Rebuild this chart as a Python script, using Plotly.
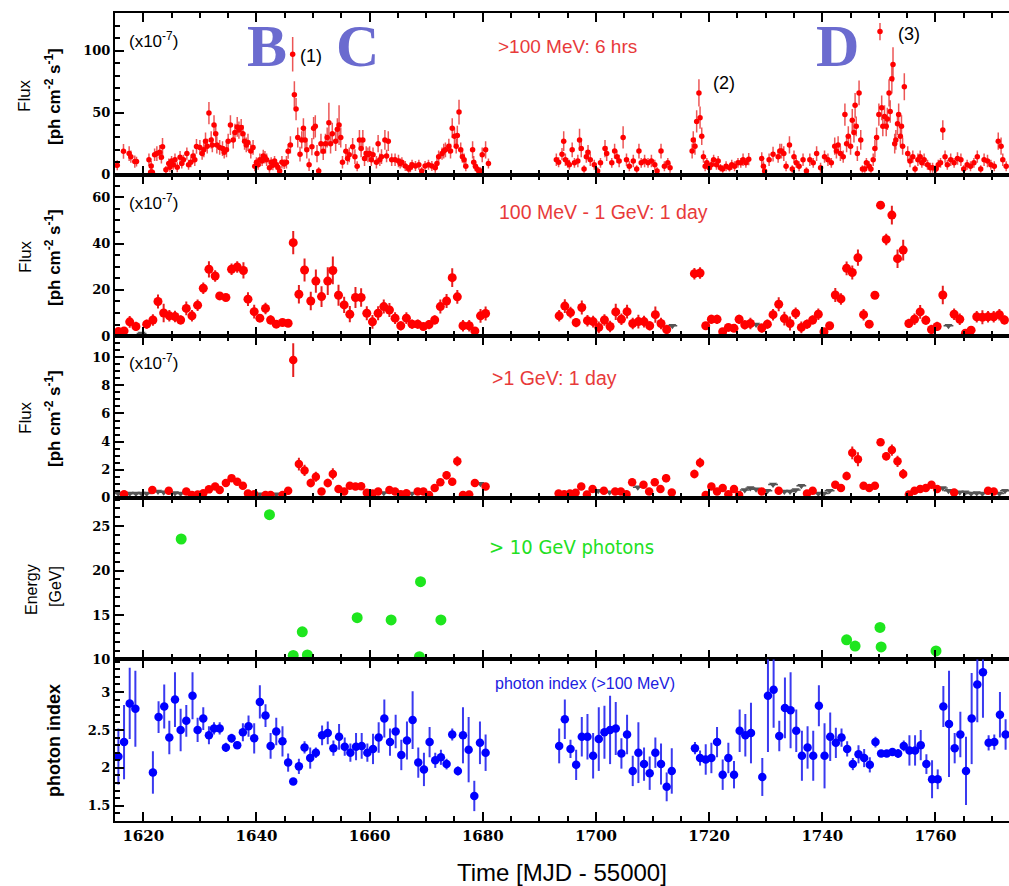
import plotly.graph_objects as go
from plotly.subplots import make_subplots

# ---------------- Panel 1: >100 MeV, 6 hr bins (x1e-7) ----------------
p1_t = [1615.4,1616.5,1617.5,1617.8,1618.5,1618.8,1621.0,1621.3,1621.4,1621.6,1622.0,1622.4,1622.9,1623.2,1623.4,
        1624.0,1624.5,1624.7,1625.0,1625.3,1625.6,1626.0,1626.5,1626.8,1627.1,1627.7,1628.0,1628.4,1628.8,1629.1,
        1629.4,1630.0,1630.4,1630.7,1631.0,1631.3,1631.6,1632.0,1632.2,1632.5,1632.8,1633.0,1633.5,1634.0,1634.3,
        1634.7,1635.0,1635.4,1635.9,1636.2,1636.6,1636.9,1637.3,1637.6,1637.9,1638.2,1638.5,1639.0,1639.4,1639.7,
        1640.0,1640.3,1640.6,1641.0,1641.2,1641.5,1641.8,1642.3,1642.6,1642.9,1643.2,1643.5,1643.8,1644.1,1644.5,
        1644.9,1645.3,1645.6,1646.0,1646.4,1646.7,1647.0,1647.3,1647.7,1648.0,1648.3,1648.6,1648.9,1649.3,1649.8,
        1650.1,1650.4,1650.7,1651.0,1651.4,1651.8,1652.2,1652.5,1652.8,1653.1,1653.4,1654.0,1654.3,1654.6,1654.9,
        1655.2,1655.8,1656.1,1656.4,1657.0,1657.4,1657.8,1658.2,1658.5,1658.8,1659.1,1659.4,1659.7,1660.0,1660.3,
        1660.6,1661.2,1661.5,1661.8,1662.1,1662.7,1663.0,1663.3,1663.9,1664.5,1665.1,1665.4,1665.7,1666.3,1666.9,
        1667.2,1667.5,1668.1,1668.7,1669.2,1669.8,1670.4,1671.0,1671.6,1671.9,1672.2,1672.8,1673.1,1673.4,1674.0,
        1674.3,1674.6,1675.0,1675.3,1675.5,1675.8,1676.1,1676.4,1676.7,1677.0,1678.2,1678.4,1678.7,1679.0,1679.3,
        1679.6,1679.9,1680.5,1681.0,
        1693.0,1693.4,1694.0,1694.3,1694.6,1695.0,1695.3,1695.8,1696.2,1696.8,1697.1,1697.4,1697.9,1698.3,1698.6,
        1699.0,1699.7,1700.3,1700.8,1701.6,1701.9,1702.8,1703.3,1703.7,1704.1,1704.8,1705.4,1705.9,1706.6,1707.2,
        1707.6,1708.0,1708.6,1709.2,1709.8,1710.4,1710.8,1711.5,1712.1,1712.7,1713.1,
        1717.0,1717.2,1717.5,1717.8,1718.2,1718.4,1718.7,1719.0,1719.3,1719.6,1720.0,1720.4,1720.8,1721.3,1721.6,
        1722.0,1722.4,1723.0,1723.6,1724.0,1724.5,1725.1,1725.6,1726.0,1726.5,1727.0,
        1729.3,1729.6,1729.8,1730.6,1731.3,1732.2,1732.5,1732.8,1733.2,1733.6,1734.2,1734.7,1735.0,1735.4,1735.9,
        1736.6,1737.2,1737.8,1738.4,1739.0,1739.7,1740.4,1741.0,1741.6,1742.2,1742.5,1742.8,1743.2,1743.7,1744.0,
        1744.3,1744.6,1745.0,1745.3,1745.6,1745.8,1746.0,1746.2,1746.5,1746.8,1747.1,1747.5,1747.8,1748.3,1748.6,
        1749.0,1749.3,1749.6,1750.0,1750.2,1750.5,1750.7,1751.0,1751.3,1751.5,1751.8,1752.0,1752.3,1752.5,1752.8,
        1753.0,1753.3,1753.5,1753.8,1754.0,1754.2,1754.5,1755.1,1755.5,1756.0,1756.4,1756.9,1757.3,1757.6,1758.0,
        1758.6,1759.1,1759.5,1760.1,1760.5,1760.9,1761.3,1761.7,1762.1,1762.7,1763.3,1763.9,1764.5,1765.0,1765.6,
        1766.2,1766.8,1767.4,1768.0,1768.6,1769.2,1769.8,1770.4,1771.1,1771.6,1771.9,1772.5]
p1_f = [7.5,18.8,17,14.5,10.5,10.5,12,2,7,2,16,17,18,14,22.6,
        4,9,6,11,8,12,6,14,9,12,17,8,10,15,12,
        22.8,22,17,20,27,23,49.7,28,24,40,33,24,22,21,18,
        20,27,40,28,34,38.5,36,38,33,27,24,26,19,22,6.7,
        10,8,12,11,15,14,12,5.5,10,7.5,11,8,6,3,10,
        8.5,10,18.8,24,97.3,64.5,53,30,16.5,28,37.5,28,20,8,22.6,
        37.5,39,17,3,25,18.8,25,30,42,25,33,27,36.6,40,30,
        10,18.8,13,16,22.6,14.5,6.7,28,21,28,13,17,16,17,12,
        16,10,25,12,14.5,28,15,27,12,12,11,9,10,7,4.5,
        6,8,7,8,3,7,8,7,5.5,9,14.5,17,19,20,23,
        19,37.5,31,23,31.5,50.5,20,14.5,12,6.7,20,10,6.7,4.5,3,
        3,16,20,9,
        12,10,16.5,27,12,9.5,8,20,9.5,11,28,21,4.5,14.5,18,
        12,8,3,9.5,21,17,9.5,19,14.5,11,30,12,6.7,11,4.5,
        19,9.5,11,9.5,11,8,3,19,6.7,9.5,5.5,
        19,28,23,43,66,46,31,14.5,6.7,9.5,5.5,8,12,8,11,
        5.5,4.5,6.7,5.5,8,6.7,9.5,9.5,12,9.5,12.5,
        13,6.7,3,12,16.5,14.5,19,19,17,6.7,24,4.5,14.5,9.5,6.7,
        12,3,12,9.5,17,5.5,14.5,12,9.5,23,19,24,17,14.5,48.5,
        25,31,23,44,34,56,39,17,66,28,4.5,4.5,9.5,6.7,4.5,
        12,21,30,48.5,115.6,54,39,47,39,45,66,51,77.5,89,25,
        28,41,48.5,31,39,23,71,17,11,14.5,4.5,12,14.5,9.5,12,
        8,5.5,5.5,4.5,8,9.5,36,14.5,8,12,9.5,13,12,4.5,8,
        6.7,9.5,14.5,4.5,12,11,8,6.7,27,23,12,6.7]
p1_e = [4,6,6,5,5,4,5,3,4,3,5,6,6,5,7,
        3,4,4,4,4,5,4,5,4,4,5,4,4,5,5,
        6,6,5,6,7,6,9,7,6,8,7,7,6,6,5,
        6,6,8,7,7,8,7,7,7,7,6,7,6,6,4,
        4,4,5,4,5,5,5,4,4,4,4,4,4,3,5,
        4,5,6,7,14,11,9,8,6,7,8,8,7,5,7,
        9,9,7,3,8,7,8,8,16,8,9,8,9,16,8,
        5,6,5,6,7,6,4,8,7,8,6,6,6,6,5,
        6,5,7,5,6,8,5,8,5,5,5,4,4,4,3,
        4,4,4,4,3,4,4,4,4,4,5,5,6,6,6,
        6,8,7,6,8,10,6,5,5,4,7,5,4,3,3,
        3,6,7,4,
        5,4,5,8,5,4,4,6,4,5,9,7,3,5,6,
        5,4,3,4,7,6,4,6,5,5,9,5,4,5,3,
        6,4,5,4,5,4,3,6,4,4,4,
        6,7,7,9,11,9,7,5,4,4,3,4,4,4,4,
        3,3,4,3,4,4,4,4,5,4,5,
        5,4,3,5,6,5,6,6,6,4,7,3,5,4,4,
        5,3,5,4,6,4,5,5,4,7,6,7,6,5,9,
        7,8,7,9,8,10,8,6,10,8,3,3,4,4,3,
        5,7,8,9,7,10,8,9,8,9,11,9,12,14,8,
        8,9,9,8,9,7,11,6,5,5,3,5,5,4,5,
        4,4,4,3,4,4,8,5,4,5,4,5,5,3,4,
        4,4,5,3,5,5,4,4,7,7,5,4]

# ---------------- Panel 2: 100 MeV - 1 GeV, 1 day (x1e-7) ----------------
p2_t = [1615.6,1616.6,1617.6,1618.7,1620.6,1621.7,1622.6,1623.6,1624.6,1625.6,1626.6,1627.6,1628.6,1629.6,1630.6,
        1631.6,1632.7,1633.5,1634.6,1635.6,1636.6,1637.7,1638.5,1639.6,1640.6,1641.6,1642.5,1643.5,1644.6,1645.6,
        1646.5,1647.5,1648.5,1649.6,1650.5,1651.5,1652.6,1653.5,1654.5,1655.5,1656.5,1657.5,1658.5,1659.5,1660.5,
        1661.5,1662.5,1663.5,1664.5,1665.5,1666.5,1667.5,1668.5,1669.5,1670.5,1671.5,1672.5,1673.6,1674.6,1675.5,
        1676.5,1677.6,1678.6,1679.6,1680.5,
        1693.5,1694.5,1695.5,1696.5,1697.5,1698.5,1699.5,1700.5,1701.5,1702.5,1703.5,1704.5,1705.5,1706.5,1707.5,
        1708.5,1709.5,1710.5,1711.5,1712.5,1717.4,1718.4,1719.4,1720.4,1721.4,1722.4,1723.4,1724.4,1725.3,1726.3,
        1727.3,1729.3,1730.3,1731.3,1732.3,1733.3,1734.3,1735.3,1736.3,1737.3,1738.3,1739.3,1740.3,1741.3,1742.3,
        1743.3,1744.3,1745.3,1746.3,1747.3,1748.3,1749.3,1750.3,1751.3,1752.3,1753.3,1754.3,1755.3,1756.3,1757.3,
        1758.3,1759.3,1760.3,1761.3,1763.3,1764.3,1765.3,1766.3,1767.3,1768.3,1769.3,1770.3,1771.3,1772.2]
p2_f = [2,2.3,6.2,4.2,5.2,7,15,10,8.8,8.5,7,12,8.8,13.4,20.7,
        28.9,26,17.4,16.7,28.9,29.9,28.4,16,10.6,7.8,12,7,5.2,5.9,5.6,
        40.4,18.1,28.6,15.2,23.8,17.1,23.8,28.4,17.7,13.5,9.5,16.7,16.7,9.9,6.2,
        9.9,12.8,11.3,7.8,4.5,7.8,5.2,5.2,4.2,5,7,12.8,15.2,25.3,17,
        4.5,4.5,2.3,8.8,9.8,
        8.8,13,10.2,5.9,12.4,6.7,6.3,3.8,7,4.2,10.5,7.3,10.6,5.5,6.3,
        6.3,4.5,9.3,5.5,2.9,27,27.3,4.5,7.3,7.3,1.9,3.8,3.4,7.3,4.9,
        5.5,3.5,5.2,9.3,13.8,7.6,5.5,9.9,3.8,5.2,7,9.5,1.9,4.5,17.8,
        16.1,29.3,27.5,33.9,9.3,5.2,17.7,56.6,41.8,52.3,33.5,37.2,5.5,7.3,10.5,
        6.9,2.9,4.2,17.8,9.5,7.3,1.3,2.6,8.4,8.2,8.4,8.4,9.3,7]
p2_e = [1,1,2.5,2,2,2.5,3,4,2.5,2.5,2,3,2.5,2.5,2.5,
        3.5,2.5,1.5,1.5,2.5,2.5,3.5,3,3,1.5,2.5,2,1.5,1.5,1.5,
        5,4,5,4,5,4.5,6,6,4.5,3.5,3.5,4.5,4,3,3,
        3,3,3,2.5,2,2.5,2,2,1.5,2,2,3,3,4,3,
        2.5,2.5,1.5,3,3,
        2.5,3,2.5,2,3,2.5,2.5,2.5,2.5,2.5,3.5,2.5,3,2.5,3,
        2.5,2,3.5,2.5,2,2.5,2.5,1.5,2,2,1,1,1,2,2,
        2.5,2,2,2.5,3,3,3,2.5,2.5,2,2,2.5,1.5,1.5,3,
        2.5,3,3,3.5,2.5,1.5,1.5,1.5,2.5,4,4,4.5,2,2.5,3,
        2,2,2,4,2.5,2.5,1,1.5,2.5,3,2.5,2.5,2.5,2]
p2_ul_t = [1619.7,1713.5,1728.3,1762.3]
p2_ul_f = [1.2,4.5,5,4.5]

# ---------------- Panel 3: >1 GeV, 1 day (x1e-7) ----------------
p3_t = [1616.6,1621.6,1624.5,1627.6,1628.6,1629.6,1630.6,1631.6,1632.7,1633.5,1634.6,1635.6,1636.6,1637.6,1638.5,
        1639.6,1641.6,1642.5,1644.6,1645.6,1646.5,1647.5,1648.5,1649.6,1650.5,1651.5,1652.6,1653.5,1654.5,1655.5,
        1656.5,1657.5,1658.5,1659.5,1660.5,1661.5,1663.5,1664.5,1665.5,1666.5,1668.5,1669.5,1670.5,1671.5,1672.5,
        1673.6,1674.6,1675.5,1676.5,1677.6,1678.6,1680.5,
        1693.4,1694.4,1695.4,1696.4,1697.4,1698.4,1699.4,1701.4,1703.4,1704.4,1705.4,1706.4,1708.4,1709.4,1710.4,
        1711.4,1712.4,1713.4,1717.4,1718.4,1719.4,1720.4,1721.4,1722.4,1723.4,1724.4,1725.3,1729.3,1732.3,1737.3,
        1738.3,1742.3,1743.3,1744.3,1745.3,1746.3,1747.3,1748.3,1749.3,1750.3,1751.3,1752.3,1753.3,1754.3,1755.3,
        1756.3,1757.3,1758.3,1759.3,1760.3,1763.3,1769.3,1770.3]
p3_f = [0.26,0.55,0.5,0.45,0.2,0.24,0.33,0.6,0.8,0.55,1.05,1.4,1.15,0.86,0.3,
        0.26,0.2,0.2,0.2,0.5,9.8,2.4,1.95,1.05,1.5,0.45,1.05,1.7,0.62,0.45,
        0.86,0.8,0.83,0.36,0.3,0.45,0.55,0.45,0.26,0.33,0.45,0.45,0.2,0.7,1.1,
        1.6,1.15,2.6,0.2,0.24,1.05,0.8,
        0.3,0.26,0.3,0.36,0.8,0.24,0.62,0.5,0.45,0.45,0.26,1.1,0.93,0.45,1.1,
        0.62,1.4,0.38,1.7,2.5,0.2,0.8,0.45,0.7,0.26,0.62,0.2,0.45,0.5,0.3,
        0.5,0.93,0.7,1.55,3.2,2.75,0.86,0.7,0.86,3.95,2.95,3.4,2.6,1.7,0.24,
        0.5,0.62,0.7,0.93,0.62,0.38,0.5,0.45]
p3_e = [0.1,0.12,0.12,0.1,0.08,0.08,0.1,0.12,0.15,0.12,0.15,0.15,0.15,0.2,0.1,
        0.1,0.08,0.08,0.08,0.12,1.2,0.45,0.4,0.3,0.35,0.15,0.3,0.4,0.2,0.15,
        0.2,0.2,0.2,0.1,0.1,0.12,0.12,0.12,0.1,0.1,0.12,0.12,0.08,0.15,0.2,
        0.3,0.25,0.35,0.08,0.08,0.25,0.2,
        0.1,0.1,0.1,0.1,0.2,0.1,0.2,0.15,0.12,0.12,0.1,0.25,0.25,0.12,0.25,
        0.2,0.3,0.1,0.3,0.35,0.08,0.2,0.12,0.15,0.1,0.15,0.08,0.12,0.12,0.1,
        0.12,0.25,0.2,0.3,0.45,0.5,0.15,0.12,0.12,0.25,0.3,0.4,0.4,0.35,0.08,
        0.12,0.15,0.15,0.2,0.15,0.1,0.12,0.12]
p3_ul_t = [1615.6,1617.6,1618.7,1619.7,1620.6,1622.6,1623.6,1625.6,1626.6,1640.6,1643.5,1662.5,1667.5,1679.6,
           1700.4,1702.4,1707.4,1726.3,1727.3,1728.3,1730.3,1731.3,1733.3,1734.3,1735.3,1736.3,1739.3,1740.3,
           1741.3,1761.3,1762.3,1764.3,1765.3,1766.3,1767.3,1768.3,1771.3,1772.3]
p3_ul_f = [0.3,0.3,0.3,0.3,0.3,0.45,0.4,0.35,0.3,0.25,0.25,0.35,0.3,1.0,
           0.5,0.4,0.75,0.55,0.7,0.6,0.5,0.95,0.45,0.45,0.55,0.85,0.3,0.3,
           0.5,0.7,0.5,0.4,0.4,0.3,0.35,0.3,0.3,0.5]

# ---------------- Panel 4: >10 GeV photons ----------------
p4_t = [1626.7,1642.3,1646.5,1648.1,1649.0,1657.8,1663.8,1669.0,1668.8,1672.6,1744.3,1745.8,1750.2,1750.4,1760.1]
p4_e = [23.56,26.3,10.45,13.1,10.5,14.7,14.45,18.75,10.3,14.45,12.2,11.5,13.6,11.4,10.95]

# ---------------- Panel 5: photon index (>100 MeV) ----------------
p5_t = [1615.6,1616.6,1617.6,1618.6,1621.7,1622.7,1623.7,1624.6,1625.6,1626.6,1627.6,1628.7,1629.6,1630.6,1631.6,
        1632.5,1633.5,1634.6,1635.6,1636.6,1637.6,1638.6,1639.6,1640.6,1641.6,1642.5,1643.5,1644.6,1645.6,1646.5,
        1647.5,1648.5,1649.5,1650.5,1651.6,1652.6,1653.6,1654.6,1655.6,1656.6,1657.6,1658.6,1659.6,1660.6,1661.6,
        1662.6,1663.6,1664.6,1665.6,1666.6,1667.6,1668.6,1669.6,1670.6,1671.6,1672.6,1673.6,1674.6,1675.6,1676.5,
        1677.5,1678.5,1679.5,1680.5,
        1693.5,1694.5,1695.5,1696.5,1697.5,1698.5,1699.5,1700.5,1701.5,1702.5,1703.5,1704.5,1705.5,1706.5,1707.5,
        1708.5,1709.5,1710.5,1711.5,1712.5,1713.4,1717.5,1718.4,1719.4,1720.4,1721.4,1722.4,1723.4,1724.4,1725.4,
        1726.4,1727.4,1729.4,1730.4,1731.4,1732.4,1733.4,1734.4,1735.4,1736.4,1737.4,1738.4,1739.4,1740.4,1741.4,
        1742.4,1743.4,1744.4,1745.4,1746.4,1747.4,1748.4,1749.4,1750.4,1751.4,1752.4,1753.4,1754.4,1755.4,1756.4,
        1757.4,1758.4,1759.4,1760.4,1761.4,1762.4,1763.4,1764.4,1765.4,1766.4,1767.4,1768.4,1769.4,1770.4,1771.4,
        1772.4]
p5_i = [2.15,2.34,2.85,2.78,1.94,2.67,2.81,2.40,2.90,2.50,2.62,2.95,2.50,2.65,2.43,
        2.52,2.52,2.27,2.39,2.30,2.47,2.55,2.39,2.87,2.69,2.29,2.48,2.35,2.07,1.82,
        2.02,2.27,2.13,2.20,2.43,2.46,2.26,2.41,2.28,2.20,2.28,2.29,2.20,2.25,2.40,
        2.65,2.34,2.48,2.17,2.36,2.63,2.07,1.98,2.34,2.10,2.14,2.05,2.44,1.96,2.43,
        2.24,1.63,2.33,2.20,
        2.29,2.64,2.25,2.04,2.41,2.41,2.16,2.38,2.47,2.50,2.52,2.19,2.44,1.96,2.20,
        2.05,1.93,2.20,2.05,1.75,1.96,2.26,2.13,2.11,2.13,2.34,1.91,2.13,1.91,2.49,
        2.43,2.46,1.88,2.95,3.03,2.42,2.79,2.76,2.49,2.16,2.27,2.16,2.82,2.16,2.41,
        2.33,2.40,2.25,2.05,2.18,2.13,2.04,2.34,2.19,2.19,2.21,2.19,2.29,2.23,2.23,
        2.30,2.05,1.85,1.85,2.81,2.58,2.26,2.44,1.96,2.65,3.10,3.26,2.33,2.34,2.70,
        2.44]
p5_e = [0.37,0.49,0.47,0.5,0.28,0.21,0.29,0.22,0.36,0.28,0.21,0.31,0.16,0.15,0.12,
        0.08,0.08,0.06,0.06,0.05,0.12,0.14,0.2,0.22,0.15,0.17,0.18,0.2,0.12,0.04,
        0.1,0.08,0.14,0.07,0.13,0.15,0.1,0.17,0.12,0.12,0.18,0.17,0.12,0.2,0.2,
        0.25,0.18,0.22,0.2,0.25,0.38,0.2,0.22,0.2,0.1,0.1,0.07,0.08,0.06,0.37,
        0.43,0.2,0.28,0.24,
        0.23,0.26,0.12,0.2,0.26,0.3,0.3,0.42,0.35,0.45,0.35,0.2,0.26,0.2,0.4,
        0.22,0.22,0.2,0.27,0.19,0.3,0.08,0.1,0.2,0.2,0.2,0.2,0.2,0.18,0.28,
        0.28,0.4,0.25,0.74,0.5,0.2,0.4,0.5,0.28,0.33,0.28,0.33,0.27,0.43,0.32,
        0.2,0.12,0.1,0.08,0.12,0.12,0.1,0.07,0.03,0.04,0.05,0.06,0.07,0.2,0.2,
        0.2,0.13,0.25,0.13,0.27,0.7,0.2,0.3,0.45,0.6,0.5,0.6,0.1,0.1,0.3,
        0.2]

# ---------------- Figure ----------------
W, H = 1009, 886
ML, MR, MT, MB = 115, 0, 13, 65

fig = make_subplots(rows=5, cols=1, shared_xaxes=True, vertical_spacing=0)

def pts(x, y, e, row, color, ecolor, size, ethick):
    fig.add_trace(go.Scatter(
        x=x, y=y, mode="markers",
        marker=dict(color=color, size=size, line=dict(width=0)),
        error_y=dict(type="data", array=e, visible=True, color=ecolor, thickness=ethick, width=0),
        showlegend=False, hoverinfo="skip"), row=row, col=1)

def uls(x, y, row):
    fig.add_trace(go.Scatter(
        x=x, y=y, mode="markers",
        marker=dict(symbol="triangle-down", color="#555555", size=7, line=dict(width=0)),
        showlegend=False, hoverinfo="skip"), row=row, col=1)
    fig.add_trace(go.Scatter(
        x=x, y=y, mode="markers",
        marker=dict(symbol="line-ew", size=7, line=dict(width=1.5, color="#555555")),
        showlegend=False, hoverinfo="skip"), row=row, col=1)

pts(p1_t, p1_f, p1_e, 1, "#ff0000", "rgba(230,30,30,0.75)", 5.5, 1.5)
uls(p2_ul_t, p2_ul_f, 2)
pts(p2_t, p2_f, p2_e, 2, "#ff0000", "#e61e1e", 9, 2)
uls(p3_ul_t, p3_ul_f, 3)
pts(p3_t, p3_f, p3_e, 3, "#ff0000", "#e61e1e", 8.5, 2)
fig.add_trace(go.Scatter(x=p4_t, y=p4_e, mode="markers",
                         marker=dict(color="#1ee61e", size=11, line=dict(width=0)),
                         showlegend=False, hoverinfo="skip"), row=4, col=1)
pts(p5_t, p5_i, p5_e, 5, "#0000ff", "#3a3af0", 8.5, 2)

tickfont_x = dict(family="DejaVu Serif", size=15, color="black", weight="bold")
tickfont_y = dict(family="DejaVu Serif", size=13, color="black", weight="bold")

for r in range(1, 6):
    fig.update_xaxes(range=[1615, 1773], showline=True, linecolor="black", linewidth=2,
                     mirror="ticks", ticks="inside", ticklen=9, tickwidth=2, tickcolor="black",
                     tick0=1620, dtick=20,
                     minor=dict(dtick=5, ticklen=5, tickwidth=1.5, ticks="inside", tickcolor="black"),
                     showgrid=False, zeroline=False, tickfont=tickfont_x, row=r, col=1)

yspec = {1: ([0, 130.6], 50, 10), 2: ([0, 69.8], 20, 5), 3: ([0, 11.5], 2, 0.5),
         4: ([10, 28.2], 5, 1), 5: ([1.3, 3.43], 0.5, 0.1)}
for r, (rng, dt, mdt) in yspec.items():
    fig.update_yaxes(range=rng, dtick=dt, showline=True, linecolor="black", linewidth=2,
                     ticks="inside", ticklen=9, tickwidth=2, tickcolor="black",
                     minor=dict(dtick=mdt, ticklen=5, tickwidth=1.5, ticks="inside", tickcolor="black"),
                     showgrid=False, zeroline=False, tickfont=tickfont_y, row=r, col=1)
fig.update_yaxes(tick0=10, row=4, col=1)

PW, PH = W - ML - MR, H - MT - MB
def px(x): return (x - ML) / PW
def py(y): return 1 - (y - MT) / PH

ann = []
def A(x, y, text, size, color="black", family="Liberation Sans", weight="normal", angle=0, xanchor="center"):
    ann.append(dict(x=px(x), y=py(y), xref="paper", yref="paper", text=text, showarrow=False,
                    xanchor=xanchor, yanchor="middle", textangle=angle,
                    font=dict(size=size, color=color, family=family, weight=weight)))

# y-axis titles
for yc in (96, 257, 418):
    A(25, yc, "Flux", 17, angle=-90)
    A(53, yc, "[ph cm<sup>-2</sup> s<sup>-1</sup>]", 17, weight="bold", angle=-90)
A(31, 590, "Energy", 16, angle=-90)
A(55, 587, "[GeV]", 16, angle=-90)
A(54, 741, "photon index", 18, weight="bold", angle=-90)

# scale factors
for yc in (40, 202, 362):
    A(127, yc, "(x10<sup>-7</sup>)", 17, xanchor="left")

# panel labels
A(567, 46, ">100 MeV: 6 hrs", 19, color="#e83a3a")
A(603, 212, "100 MeV - 1 GeV: 1 day", 19.5, color="#e83a3a")
A(554, 378, ">1 GeV: 1 day", 19.5, color="#e83a3a")
A(571, 547, "> 10 GeV photons", 20, color="#22e022", family="Liberation Sans Narrow, DejaVu Sans Condensed, Liberation Sans")
A(585, 683, "photon index (>100 MeV)", 16, color="#2020e0")

# flare markers
A(311, 56, "(1)", 18)
A(724, 83, "(2)", 18)
A(909, 34, "(3)", 18)
for x, t in ((267, "B"), (357, "C"), (837, "D")):
    A(x, 46, t, 60, color="#6b6bcf", family="Liberation Serif", weight="bold")

# x title
A(562, 872, "Time [MJD - 55000]", 24)

fig.update_layout(width=W, height=H, margin=dict(l=ML, r=MR, t=MT, b=MB),
                  paper_bgcolor="white", plot_bgcolor="white", annotations=ann,
                  showlegend=False)

fig.write_html("out.html")
